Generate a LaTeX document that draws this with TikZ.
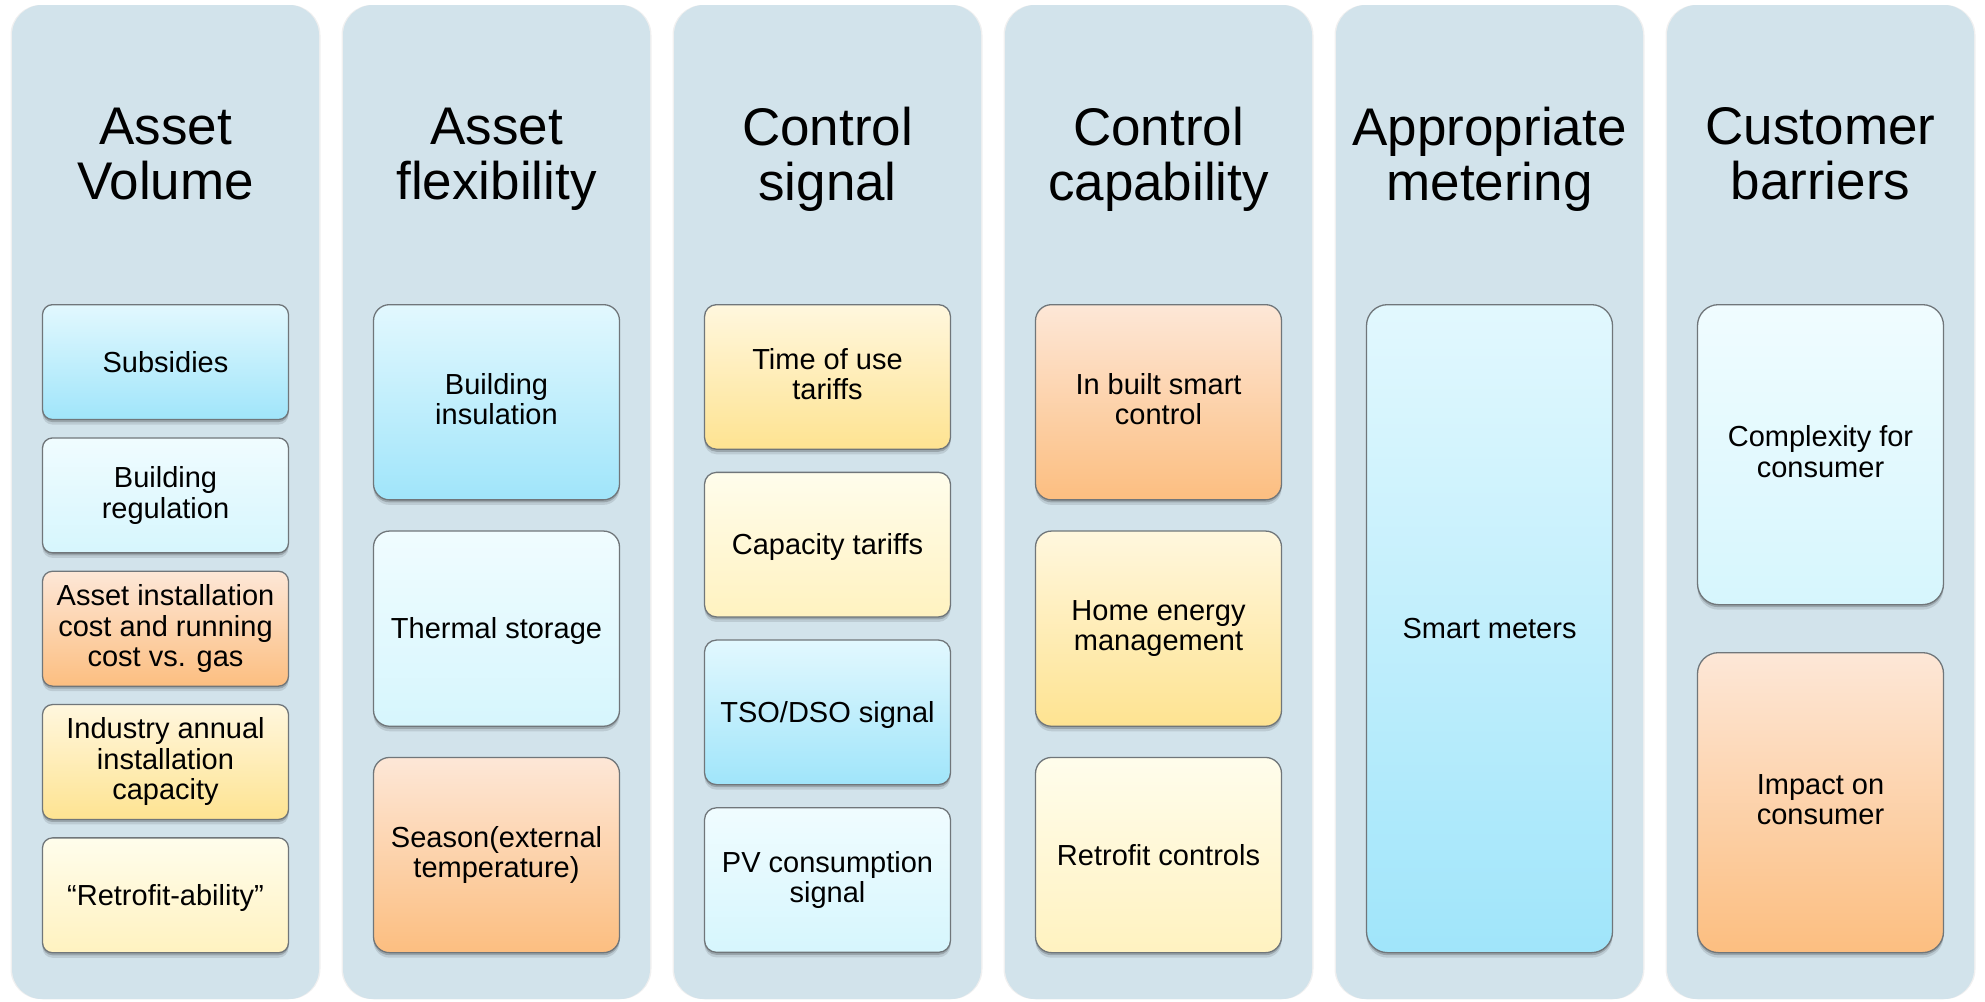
\documentclass[tikz,border=0pt]{standalone}
\usepackage{fontspec}
\setmainfont{Liberation Sans}
\usetikzlibrary{shadows}

\definecolor{colbg}{RGB}{210,227,235}
\definecolor{edgegrey}{RGB}{112,118,122}
\definecolor{blueT}{RGB}{226,248,254}
\definecolor{blueB}{RGB}{160,229,250}
\definecolor{paleT}{RGB}{240,252,255}
\definecolor{paleB}{RGB}{214,246,253}
\definecolor{oranT}{RGB}{253,231,215}
\definecolor{oranB}{RGB}{252,190,128}
\definecolor{yellT}{RGB}{255,247,222}
\definecolor{yellB}{RGB}{254,227,145}
\definecolor{creamT}{RGB}{255,253,236}
\definecolor{creamB}{RGB}{255,242,192}

% struts with the ascent and descent of the font, so that lines centre like in a slide
\newcommand{\cardstrut}{\rule[-6.1pt]{0pt}{32.3pt}}
\newcommand{\headstrut}{\rule[-11.2pt]{0pt}{59.2pt}}

\tikzset{
  lane/.style={fill=colbg, rounded corners=30pt, minimum width=307pt,
    minimum height=994pt, inner sep=0pt,
    general shadow={fill=black, opacity=0.06, shadow xshift=-1.5pt, shadow yshift=0pt},
    general shadow={fill=black, opacity=0.06, shadow xshift=1.5pt, shadow yshift=0pt}},
  lanetitle/.style={align=center, font=\fontsize{53}{55}\selectfont, inner sep=0pt,
    execute at begin node={\headstrut}, execute at end node={\headstrut}},
  card/.style={draw=edgegrey, line width=1.3pt, align=center,
    font=\fontsize{29}{30.5}\selectfont, minimum width=246pt, inner sep=0pt,
    anchor=north,
    execute at begin node={\cardstrut}, execute at end node={\cardstrut},
    general shadow={fill=black, opacity=0.10, shadow xshift=0pt, shadow yshift=-5pt},
    general shadow={fill=black, opacity=0.18, shadow xshift=0pt, shadow yshift=-2.5pt}},
  five/.style={card, minimum height=114.9pt, rounded corners=10pt},
  four/.style={card, minimum height=144.6pt, rounded corners=12pt},
  three/.style={card, minimum height=195.2pt, rounded corners=16pt},
  two/.style={card, minimum height=300pt, rounded corners=21pt},
  one/.style={card, minimum height=648pt, rounded corners=21pt},
  fillblue/.style={top color=blueT, bottom color=blueB},
  fillpale/.style={top color=paleT, bottom color=paleB},
  fillorange/.style={top color=oranT, bottom color=oranB},
  fillyellow/.style={top color=yellT, bottom color=yellB},
  fillcream/.style={top color=creamT, bottom color=creamB},
}

\begin{document}
\begin{tikzpicture}[x=1pt, y=-1pt]
  \useasboundingbox (0,0) rectangle (1985,1001);
  \fill[white] (0,0) rectangle (1985,1001);

  % six vertical lanes
  \node[lane] (lane1) at (165.5,502) {};
  \node[lane] (lane2) at (496.5,502) {};
  \node[lane] (lane3) at (827.5,502) {};
  \node[lane] (lane4) at (1158.5,502) {};
  \node[lane] (lane5) at (1489.5,502) {};
  \node[lane] (lane6) at (1820.5,502) {};

  % lane headings
  \node[lanetitle] (t1) at (165.5,159) {Asset\\Volume};
  \node[lanetitle] (t2) at (496.5,159) {Asset\\flexibility};
  \node[lanetitle] (t3) at (827.5,159) {Control\\signal};
  \node[lanetitle] (t4) at (1158.5,159) {Control\\capability};
  \node[lanetitle] (t5) at (1489.5,159) {Appropriate\\metering};
  \node[lanetitle] (t6) at (1820.5,159) {Customer\\barriers};

  % Asset Volume
  \node[five, fillblue]   (a1) at (165.5,304)   {Subsidies};
  \node[five, fillpale]   (a2) at (165.5,437.3) {Building\\regulation};
  \node[five, fillorange] (a3) at (165.5,570.6) {Asset installation\\cost and running\\cost vs. gas};
  \node[five, fillyellow] (a4) at (165.5,703.9) {Industry annual\\installation\\capacity};
  \node[five, fillcream]  (a5) at (165.5,837.2) {“Retrofit-ability”};

  % Asset flexibility
  \node[three, fillblue]   (b1) at (496.5,304)   {Building\\insulation};
  \node[three, fillpale]   (b2) at (496.5,530.4) {Thermal storage};
  \node[three, fillorange] (b3) at (496.5,756.8) {Season(external\\temperature)};

  % Control signal
  \node[four, fillyellow] (c1) at (827.5,304)   {Time of use\\tariffs};
  \node[four, fillcream]  (c2) at (827.5,471.7) {Capacity tariffs};
  \node[four, fillblue]   (c3) at (827.5,639.4) {TSO/DSO signal};
  \node[four, fillpale]   (c4) at (827.5,807.1) {PV consumption\\signal};

  % Control capability
  \node[three, fillorange] (d1) at (1158.5,304)   {In built smart\\control};
  \node[three, fillyellow] (d2) at (1158.5,530.4) {Home energy\\management};
  \node[three, fillcream]  (d3) at (1158.5,756.8) {Retrofit controls};

  % Appropriate metering
  \node[one, fillblue] (e1) at (1489.5,304) {Smart meters};

  % Customer barriers
  \node[two, fillpale]   (f1) at (1820.5,304) {Complexity for\\consumer};
  \node[two, fillorange] (f2) at (1820.5,652) {Impact on\\consumer};
\end{tikzpicture}
\end{document}
